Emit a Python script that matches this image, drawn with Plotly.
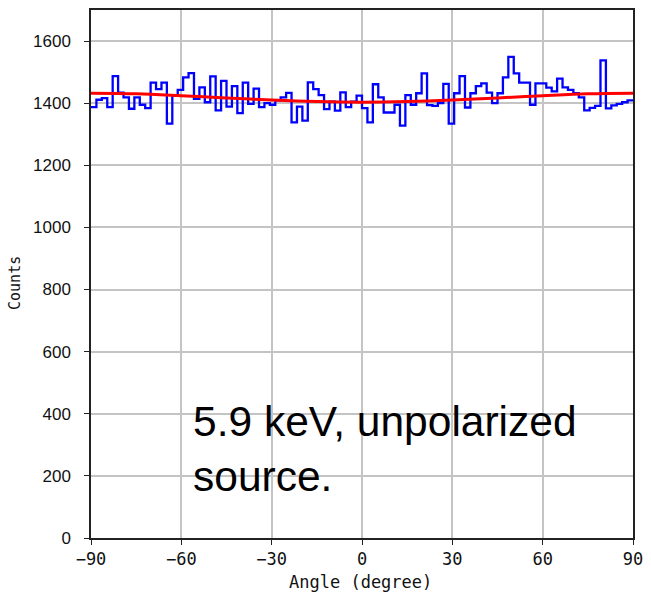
import numpy as np
import plotly.graph_objects as go

# Histogram binning of the modulation angle (degrees)
bin_start = -90.0
bin_width = 1.8

# Counts per angular bin, 100 bins from -90 to 90 degrees
counts = [
    1387, 1411, 1416, 1387, 1487, 1434, 1419, 1382, 1419, 1395,
    1384, 1466, 1445, 1466, 1334, 1424, 1443, 1483, 1497, 1414,
    1451, 1403, 1486, 1377, 1472, 1389, 1455, 1368, 1466, 1398,
    1447, 1387, 1400, 1395, 1409, 1419, 1433, 1338, 1389, 1344,
    1467, 1445, 1426, 1381, 1405, 1376, 1435, 1387, 1405, 1424,
    1384, 1338, 1461, 1419, 1370, 1370, 1395, 1328, 1426, 1395,
    1432, 1496, 1394, 1391, 1400, 1462, 1334, 1432, 1487, 1386,
    1432, 1455, 1464, 1434, 1400, 1432, 1483, 1549, 1496, 1466,
    1466, 1395, 1464, 1464, 1450, 1438, 1479, 1451, 1443, 1432,
    1419, 1377, 1385, 1391, 1538, 1383, 1393, 1398, 1403, 1409,
]

# Fitted modulation curve, sampled along the angle axis
fit_angles = [-90, -75, -60, -45, -30, -15, 0, 15, 30, 45, 60, 75, 90]
fit_counts = [1432, 1430, 1424, 1417, 1410, 1405, 1403, 1405, 1410, 1417, 1424, 1430, 1432]

x_ticks = [-90, -60, -30, 0, 30, 60, 90]
y_ticks = [0, 200, 400, 600, 800, 1000, 1200, 1400, 1600]

edges = bin_start + bin_width * np.arange(len(counts) + 1)
step_y = counts + [counts[-1]]

fig = go.Figure()
fig.add_trace(go.Scatter(
    x=edges, y=step_y, mode="lines", line_shape="hv",
    line=dict(color="#0000ff", width=2.3), showlegend=False,
))
fig.add_trace(go.Scatter(
    x=fit_angles, y=fit_counts, mode="lines", line_shape="spline",
    line=dict(color="#ff0000", width=3), showlegend=False,
))

axis_common = dict(
    showline=True, linecolor="#222222", linewidth=1.5, mirror=True,
    showgrid=True, gridcolor="#c4c4c4", gridwidth=1.5,
    ticks="outside", ticklen=5, tickwidth=1.2, tickcolor="#222222",
    zeroline=False,
)

fig.update_xaxes(
    range=[-90, 90], tickvals=x_ticks,
    tickfont=dict(family="DejaVu Sans Mono", size=17, color="#111111"),
    **axis_common,
)
fig.update_yaxes(
    range=[0, 1700], tickvals=y_ticks, ticklabelstandoff=10,
    tickfont=dict(family="Liberation Sans, Arial", size=17, color="#111111"),
    **axis_common,
)

fig.add_annotation(
    text="Angle (degree)", xref="paper", yref="paper", x=0.498, y=0,
    xanchor="center", yanchor="middle", yshift=-44, showarrow=False,
    font=dict(family="DejaVu Sans Mono", size=17, color="#111111"),
)
fig.add_annotation(
    text="Counts", xref="paper", yref="paper", x=0, y=0.483,
    xanchor="center", yanchor="middle", xshift=-76, textangle=-90,
    showarrow=False,
    font=dict(family="DejaVu Sans Mono", size=15, color="#111111"),
)
fig.add_annotation(
    text="5.9 keV, unpolarized<br>source.", xref="paper", yref="paper",
    x=0.185, y=0.168, xanchor="left", yanchor="middle", align="left",
    showarrow=False,
    font=dict(family="Liberation Sans, Arial", size=42.5, color="#000000"),
)

fig.update_layout(
    width=651, height=593,
    margin=dict(l=91, r=14, t=8, b=55),
    paper_bgcolor="white", plot_bgcolor="white",
)

fig.write_html("out.html")
